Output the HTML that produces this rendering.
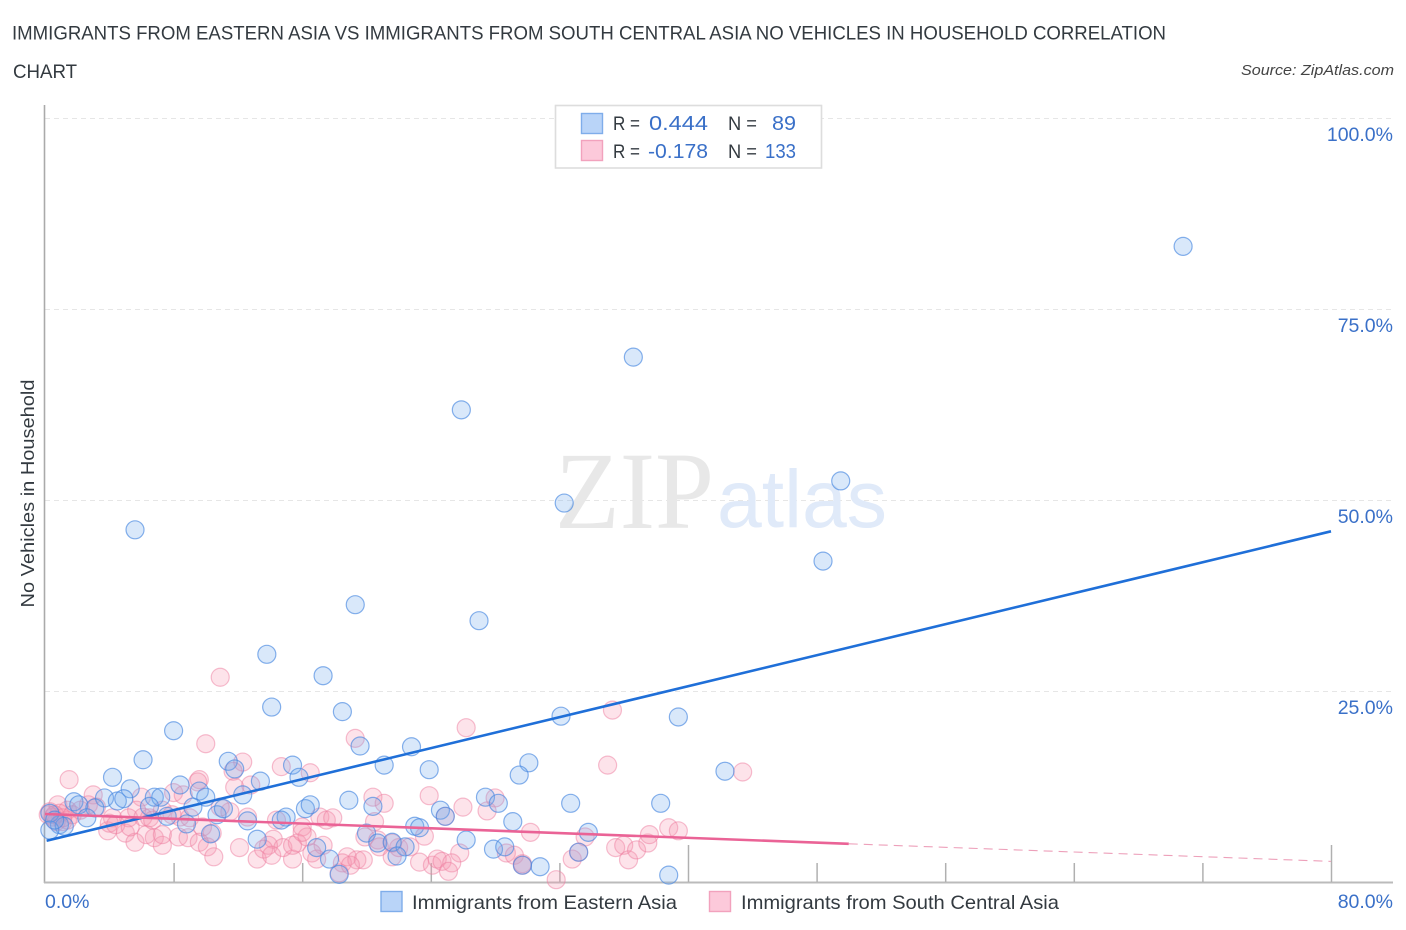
<!DOCTYPE html>
<html lang="en">
<head>
<meta charset="utf-8">
<title>No Vehicles in Household Correlation Chart</title>
<style>
html,body{margin:0;padding:0;background:#fff;}
svg{display:block;font-family:"Liberation Sans",sans-serif;}
</style>
</head>
<body>
<svg id="chart" xmlns="http://www.w3.org/2000/svg" width="1406" height="930" viewBox="0 0 1406 930">
  <rect x="0" y="0" width="1406" height="930" fill="#ffffff"/>
  <text x="12" y="39.5" font-size="19.5" fill="#333a40" textLength="1154" lengthAdjust="spacingAndGlyphs">IMMIGRANTS FROM EASTERN ASIA VS IMMIGRANTS FROM SOUTH CENTRAL ASIA NO VEHICLES IN HOUSEHOLD CORRELATION</text>
  <text x="13" y="78" font-size="19.5" fill="#333a40" textLength="64" lengthAdjust="spacingAndGlyphs">CHART</text>
  <text x="1394" y="75" font-size="15" font-style="italic" fill="#444" text-anchor="end" textLength="153" lengthAdjust="spacingAndGlyphs">Source: ZipAtlas.com</text>

  <g id="grid"></g>

  <g>
    <text x="555" y="528" font-family="'Liberation Serif',serif" font-size="110" fill="#e8e8e8" textLength="159" lengthAdjust="spacingAndGlyphs">ZIP</text>
    <text x="717" y="527" font-size="82" fill="#e0eaf9" textLength="170" lengthAdjust="spacingAndGlyphs">atlas</text>
  </g>

  <g id="axes">
    <line x1="44.5" y1="105" x2="44.5" y2="883" stroke="#aaaaaa" stroke-width="1.6"/>
    <line x1="44" y1="882.5" x2="1393" y2="882.5" stroke="#bbbbbb" stroke-width="2"/>
  </g>

  <g id="pink-points"></g>
  <g id="blue-points"></g>
  <g id="trends"></g>
  <g id="tick-labels"></g>

  <text x="0" y="0" transform="translate(34,493.5) rotate(-90)" font-size="18.5" fill="#333a40" text-anchor="middle" textLength="228" lengthAdjust="spacingAndGlyphs">No Vehicles in Household</text>

  <g>
    <rect x="555.5" y="105.5" width="266" height="62.5" fill="#ffffff" stroke="#dddddd" stroke-width="1.6"/>
    <rect x="581.5" y="113.5" width="21" height="20" fill="#b9d4f8" stroke="#7fadea" stroke-width="1.4"/>
    <rect x="581.5" y="140.5" width="21" height="20" fill="#fcc9da" stroke="#f2a2bd" stroke-width="1.4"/>
    <text x="613" y="130" font-size="19.5" fill="#333a40" textLength="27" lengthAdjust="spacingAndGlyphs">R =</text>
    <text x="649" y="130" font-size="20.5" fill="#3a70c8" textLength="59" lengthAdjust="spacingAndGlyphs">0.444</text>
    <text x="728" y="130" font-size="19.5" fill="#333a40" textLength="29" lengthAdjust="spacingAndGlyphs">N =</text>
    <text x="772" y="130" font-size="20.5" fill="#3a70c8" textLength="24" lengthAdjust="spacingAndGlyphs">89</text>
    <text x="613" y="158" font-size="19.5" fill="#333a40" textLength="27" lengthAdjust="spacingAndGlyphs">R =</text>
    <text x="648" y="158" font-size="20.5" fill="#3a70c8" textLength="60" lengthAdjust="spacingAndGlyphs">-0.178</text>
    <text x="728" y="158" font-size="19.5" fill="#333a40" textLength="29" lengthAdjust="spacingAndGlyphs">N =</text>
    <text x="765" y="158" font-size="20.5" fill="#3a70c8" textLength="31" lengthAdjust="spacingAndGlyphs">133</text>
  </g>

  <g>
    <rect x="381" y="891.5" width="21" height="20" fill="#b9d4f8" stroke="#7fadea" stroke-width="1.4"/>
    <text x="412" y="909" font-size="19.5" fill="#333a40" textLength="265" lengthAdjust="spacingAndGlyphs">Immigrants from Eastern Asia</text>
    <rect x="709.5" y="891.5" width="21" height="20" fill="#fcc9da" stroke="#f2a2bd" stroke-width="1.4"/>
    <text x="741" y="909" font-size="19.5" fill="#333a40" textLength="318" lengthAdjust="spacingAndGlyphs">Immigrants from South Central Asia</text>
  </g>
</svg>

<script>
var blueX = [70.8,36.6,25.9,49.5,32.3,48.4,5.6,19.3,27.0,13.8,17.3,14.1,18.5,8.0,32.1,39.4,19.6,22.8,6.1,11.4,11.8,15.4,21.1,23.9,30.1,29.5,42.3,4.2,13.4,15.8,5.3,8.4,9.6,10.0,3.7,1.8,2.1,4.5,4.9,6.8,7.2,6.5,3.1,7.6,9.2,8.8,10.3,10.7,2.6,0.9,1.2,0.3,0.3,0.6,12.3,11.1,12.6,13.2,15.0,14.7,16.2,16.5,18.9,20.4,20.0,20.7,16.9,17.7,18.3,27.4,28.2,24.6,24.9,29.1,23.0,23.3,26.2,27.9,28.6,21.6,22.4,21.9,29.7,30.8,32.7,38.3,33.8,33.2,38.8];
var blueY = [83.2,68.7,61.8,52.5,49.6,42.0,46.1,36.3,34.2,29.8,27.0,22.9,22.3,19.8,21.7,21.6,17.8,17.7,16.0,15.8,14.8,15.3,15.3,14.7,15.6,14.0,14.5,13.7,13.2,13.7,12.2,12.7,11.9,11.1,11.0,10.5,10.1,10.6,10.9,11.1,11.1,9.9,9.7,8.6,9.8,7.6,6.3,8.8,8.4,7.5,7.3,9.0,6.8,8.1,11.4,9.6,8.0,5.6,8.5,8.1,9.6,10.1,10.7,9.9,6.4,5.1,4.5,3.0,1.0,11.1,10.3,9.4,8.6,7.9,7.3,7.1,5.5,4.3,4.6,5.2,4.6,3.4,2.2,2.0,10.3,10.3,6.5,3.9,0.9];

var pinkX = [10.9,1.5,10.0,19.3,26.2,35.3,35.0,43.4,12.3,11.7,11.8,12.8,14.7,16.5,9.6,9.5,3.0,0.8,6.0,8.0,8.6,5.7,3.9,5.0,5.6,6.8,7.3,8.3,8.9,9.6,10.1,10.5,6.3,7.3,4.2,5.2,6.1,6.5,8.4,4.0,4.4,5.3,2.7,3.2,1.4,0.9,0.5,0.7,1.1,1.4,0.3,1.7,2.2,9.0,6.7,9.8,7.3,7.9,10.4,11.5,10.9,12.6,14.4,16.0,17.1,17.5,17.9,12.1,13.2,14.2,13.9,13.6,14.1,15.4,14.8,15.7,15.4,16.3,16.0,17.3,16.6,16.9,18.8,18.5,19.4,19.8,19.0,18.3,19.9,20.5,20.7,20.4,21.1,23.9,26.0,28.0,27.5,24.9,23.6,30.2,25.8,23.3,24.1,24.4,24.7,25.3,25.1,20.8,21.6,22.0,21.6,22.7,28.7,29.2,29.7,33.6,32.8,33.2,31.8,35.5,36.0,36.3,36.8,37.5,37.6,38.8,39.4,29.7,0.2,0.6,1.1];
var pinkY = [26.8,13.4,18.1,18.8,20.2,22.5,15.3,14.4,15.7,14.5,12.4,12.7,15.1,14.3,13.4,13.1,11.4,10.1,11.1,11.7,11.4,9.4,6.7,6.4,5.2,5.8,4.8,5.9,5.8,5.2,4.6,3.3,6.2,6.2,8.4,8.4,8.5,8.4,8.5,7.7,7.5,7.2,10.1,9.8,9.4,9.0,8.5,7.9,7.9,8.1,9.2,8.8,9.4,8.4,8.1,7.2,9.4,8.8,6.4,9.2,9.8,8.5,8.1,7.2,8.5,8.1,8.4,4.5,3.0,5.6,4.8,4.3,3.5,3.0,4.5,5.1,4.8,5.9,6.5,4.8,3.8,3.0,3.3,2.5,2.9,2.9,2.2,1.2,5.9,7.9,5.5,11.1,10.3,11.3,9.8,11.0,9.3,8.6,6.0,6.5,3.8,2.6,2.2,3.0,2.7,2.5,1.4,4.6,3.3,4.5,5.1,4.6,3.8,3.5,2.4,5.9,3.0,3.9,0.3,4.5,4.8,2.9,4.2,5.1,6.2,7.1,6.7,2.2,8.8,8.8,8.4];

var blueTrendX = [0.1, 80];
var blueTrendY = [5.4, 45.9];
var pinkTrendX = [0, 50];
var pinkTrendY = [8.9, 5.0];
var pinkDashX = [50, 80];
var pinkDashY = [5.0, 2.7];

var yTickValues = [100, 75, 50, 25];
var yTickLabels = ["100.0%", "75.0%", "50.0%", "25.0%"];
var xTickValues = [8, 16, 24, 32, 40, 48, 56, 64, 72, 80];
var xMajorTicks = [40, 80];
var xEndValues = [0, 80];
var xEndLabels = ["0.0%", "80.0%"];

var NS = "http://www.w3.org/2000/svg";
function xScale(v) { return 45 + v * 16.075; }
function yScale(v) { return 882 - v * 7.64; }
function make(tag, attrs, parent) {
  var el = document.createElementNS(NS, tag);
  for (var k in attrs) { el.setAttribute(k, attrs[k]); }
  parent.appendChild(el);
  return el;
}

var gridG = document.getElementById("grid");
yTickValues.forEach(function (v) {
  var el = make("line", {x1: 45, x2: 1393, y1: yScale(v) + 0.5, y2: yScale(v) + 0.5, stroke: "#e6e6e6", "stroke-width": 1, "stroke-dasharray": "5 4"}, gridG);
  
  
});

var axesG = document.getElementById("axes");
xTickValues.forEach(function (v) {
  var top = xMajorTicks.indexOf(v) >= 0 ? 845 : 863;
  var el = make("line", {x1: xScale(v) + 0.5, x2: xScale(v) + 0.5, y1: top, y2: 882, stroke: "#b0b0b0", "stroke-width": 1.5}, axesG);
  
  
});

var pinkG = document.getElementById("pink-points");
pinkX.forEach(function (v, i) {
  var el = make("circle", {cx: xScale(v), cy: yScale(pinkY[i]), r: 9, fill: "rgba(248,150,178,0.27)", stroke: "rgba(238,125,160,0.5)", "stroke-width": 1.2}, pinkG);
  
  
});

var blueG = document.getElementById("blue-points");
blueX.forEach(function (v, i) {
  var el = make("circle", {cx: xScale(v), cy: yScale(blueY[i]), r: 9, fill: "rgba(115,170,238,0.27)", stroke: "rgba(70,135,225,0.65)", "stroke-width": 1.2}, blueG);
  
  
});

var trendG = document.getElementById("trends");
var blueLine = make("line", {x1: xScale(blueTrendX[0]), y1: yScale(blueTrendY[0]), x2: xScale(blueTrendX[1]), y2: yScale(blueTrendY[1]), stroke: "#1f6fd8", "stroke-width": 2.6}, trendG);


var pinkLine = make("line", {x1: xScale(pinkTrendX[0]), y1: yScale(pinkTrendY[0]), x2: xScale(pinkTrendX[1]), y2: yScale(pinkTrendY[1]), stroke: "#ea6396", "stroke-width": 2.6}, trendG);


var pinkDash = make("line", {x1: xScale(pinkDashX[0]), y1: yScale(pinkDashY[0]), x2: xScale(pinkDashX[1]), y2: yScale(pinkDashY[1]), stroke: "#eda0ba", "stroke-width": 1.1, "stroke-dasharray": "9 6"}, trendG);



var labelG = document.getElementById("tick-labels");
yTickValues.forEach(function (v, i) {
  var el = make("text", {x: 1393, y: yScale(v) + 23, "font-size": 19.5, fill: "#3a70c8", "text-anchor": "end"}, labelG);
  el.textContent = yTickLabels[i];
  
  
});
xEndValues.forEach(function (v, i) {
  var el = make("text", {x: v === 0 ? 45 : 1393, y: 908, "font-size": 19.5, fill: "#3a70c8", "text-anchor": v === 0 ? "start" : "end"}, labelG);
  el.textContent = xEndLabels[i];
  
  
});
</script>
</body>
</html>
